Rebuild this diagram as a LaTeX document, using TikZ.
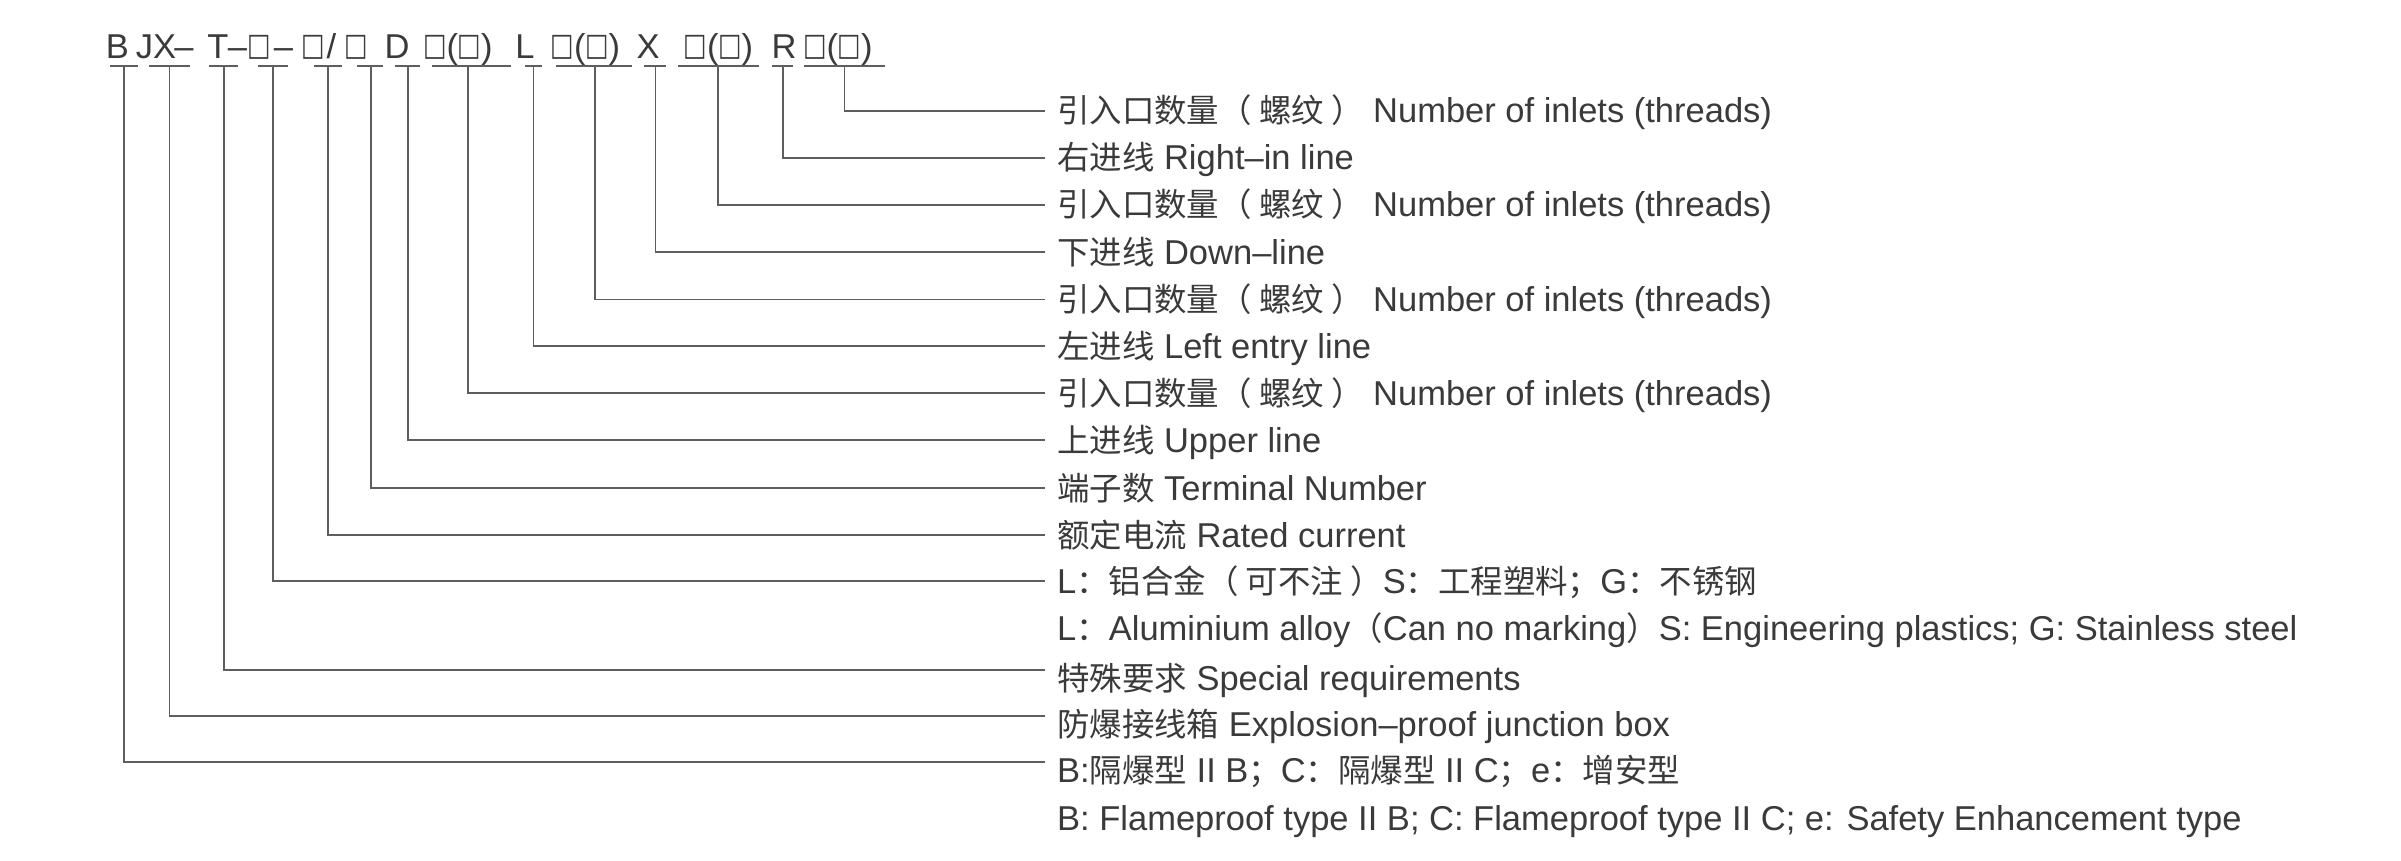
\documentclass[tikz,border=0pt]{standalone}
\usepackage{fontspec}
\setmainfont{Liberation Sans}
\newfontfamily\cjk[Scale=0.94]{Noto Sans CJK SC}
\newfontfamily\dvs{DejaVu Sans}
\definecolor{txt}{HTML}{3A3A3A}
\definecolor{ln}{HTML}{5E5E5E}
\newsavebox\bxbox
\newcommand{\bx}{{\dvs
  \dimen0=\XeTeXglyphbounds 1 \XeTeXcharglyph`□\relax
  \dimen2=\XeTeXglyphbounds 3 \XeTeXcharglyph`□\relax
  \sbox\bxbox{\kern-\dimen0 □\kern-\dimen2}%
  \kern2pt\resizebox{19pt}{24pt}{\raisebox{\dp\bxbox}{\usebox\bxbox}}\kern2pt}}
\newcommand{\zh}[1]{{\cjk #1}}
\begin{document}
\begin{tikzpicture}[x=1pt,y=-1pt,
  every node/.style={font=\fontsize{34.5}{40}\selectfont, text=txt},
  code/.style={anchor=base, inner sep=0pt},
  lab/.style={anchor=west, inner xsep=12pt, inner ysep=0pt, text height=#1, text depth=0pt},
  lab/.default=24pt,
  conn/.style={draw=ln, line width=1.8pt},
]
\useasboundingbox[fill=white] (0,0) rectangle (2401,861);

% code line
\node[code] (cB)  at (117.5,59) {B};
\node[code] (cJX) at (156,59) {JX};
\node[code] (d1)  at (184,59) {–};
\node[code] (cT)  at (218,59) {T};
\node[code] (d2)  at (237.5,59) {–};
\node[code] (cS1) at (259,59) {\bx};
\node[code] (d3)  at (283.5,59) {–};
\node[code] (cS2) at (313.5,59) {\bx};
\node[code] (sl)  at (331.5,59) {/};
\node[code] (cS3) at (356.5,59) {\bx};
\node[code] (cD)  at (397,59) {D};
\node[code] (cP1) at (458,59) {\bx(\bx)};
\node[code] (cL)  at (525,59) {L};
\node[code] (cP2) at (585.5,59) {\bx(\bx)};
\node[code] (cX)  at (648,59) {X};
\node[code] (cP3) at (718.5,59) {\bx(\bx)};
\node[code] (cR)  at (784,59) {R};
\node[code] (cP4) at (838,59) {\bx(\bx)};

% labels
\node[lab] (r1)  at (1045,110.7) {\zh{引入口数量（ 螺纹 ）} Number of inlets (threads)};
\node[lab] (r2)  at (1045,157.9) {\zh{右进线} Right–in line};
\node[lab] (r3)  at (1045,205)   {\zh{引入口数量（ 螺纹 ）} Number of inlets (threads)};
\node[lab] (r4)  at (1045,252.2) {\zh{下进线} Down–line};
\node[lab] (r5)  at (1045,299.4) {\zh{引入口数量（ 螺纹 ）} Number of inlets (threads)};
\node[lab] (r6)  at (1045,346)   {\zh{左进线} Left entry line};
\node[lab] (r7)  at (1045,393)   {\zh{引入口数量（ 螺纹 ）} Number of inlets (threads)};
\node[lab] (r8)  at (1045,440)   {\zh{上进线} Upper line};
\node[lab] (r9)  at (1045,488)   {\zh{端子数} Terminal Number};
\node[lab] (r10) at (1045,535)   {\zh{额定电流} Rated current};
\node[lab] (r11) at (1045,581)   {L\zh{：铝合金（ 可不注 ）}S\zh{：工程塑料；}G\zh{：不锈钢}};
\node[lab] (r12) at (1045,628)   {L\zh{：}Aluminium alloy\zh{（}Can no marking\zh{）}S: Engineering plastics; G: Stainless steel};
\node[lab=40pt] (r13) at (1045,670) {\zh{特殊要求} Special requirements};
\node[lab=40pt] (r14) at (1045,716) {\zh{防爆接线箱} Explosion–proof junction box};
\node[lab=40pt] (r15) at (1045,762) {B:\zh{隔爆型} II B\zh{；}C\zh{：隔爆型} II C\zh{；}e\zh{：增安型}};
\node[lab] (r16) at (1045,818)   {B: Flameproof type II B;\ C: Flameproof type II C;\ e: Safety Enhancement type};

% underlines and connectors
\foreach \n/\vx/\l/\r/\t in {B/124/110/138/r15, JX/169.5/149/190/r14, T/224/209/238/r13,
  S1/273/258/288/r11, S2/328/314/342/r10, S3/371/357/383/r9, D/408/395/420/r8,
  P1/468/432/511/r7, L/533.5/525/542/r6, P2/595/556/632/r5, X/655.5/644/666/r4,
  P3/718/678/759/r3, R/783/772/793/r2, P4/844.5/804/885/r1}{
  \coordinate (u\n) at (\vx,66);
  \draw[conn] (\l,66) -- (\r,66);
  \draw[conn] (u\n) |- (\t.west);
}
\end{tikzpicture}
\end{document}
